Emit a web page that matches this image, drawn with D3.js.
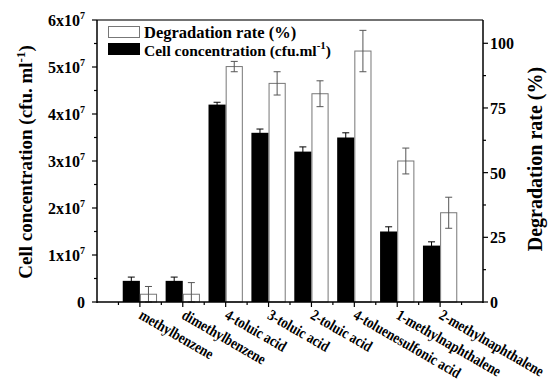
<!DOCTYPE html>
<html>
<head>
<meta charset="utf-8">
<script src="https://cdn.jsdelivr.net/npm/d3@7"></script>
<style>
  body { margin: 0; background: #fff; }
  text { font-family: "Liberation Serif", "Times New Roman", serif; font-weight: bold; fill: #000; }
</style>
</head>
<body>
<svg id="chart"></svg>
<script>
const categories = ['methylbenzene', 'dimethylbenzene', '4-toluic acid', '3-toluic acid',
	'2-toluic acid', '4-toluenesulfonic acid', '1-methylnaphthalene', '2-methylnaphthalene'];
const cellValues = [0.45e7, 0.45e7, 4.2e7, 3.6e7, 3.2e7, 3.5e7, 1.5e7, 1.2e7];
const cellErrors = [0.08e7, 0.08e7, 0.05e7, 0.08e7, 0.1e7, 0.1e7, 0.1e7, 0.08e7];
const degValues = [3, 3, 91, 84.5, 80.5, 97, 54.5, 34.5];
const degErrors = [3, 4.5, 2, 4.5, 5, 8, 5, 6];
const leftTicks = [0, 1e7, 2e7, 3e7, 4e7, 5e7, 6e7];
const rightTicks = [0, 25, 50, 75, 100];

const W = 550, H = 391;
const svg = d3.select('#chart').attr('width', W).attr('height', H);

const plotL = 97, plotR = 483, plotT = 20, plotB = 302;

const x = d3.scaleLinear().domain([0, categories.length + 1]).range([plotL, plotR]);
const yL = d3.scaleLinear().domain([0, 6e7]).range([plotB, plotT]);
const yR = d3.scaleLinear().domain([0, 109]).range([plotB, plotT]);
const barW = x(0.4) - x(0);

// frame top line
svg.append('line')
	.attr('x1', plotL).attr('x2', plotR).attr('y1', plotT).attr('y2', plotT)
	.attr('stroke', '#444').attr('stroke-width', 1.5);

// bars
const g = svg.append('g');
categories.forEach((c, i) => {
	const cx = x(i + 1);
	g.append('rect')
		.attr('x', cx - barW).attr('y', yL(cellValues[i]))
		.attr('width', barW).attr('height', yL(0) - yL(cellValues[i]))
		.attr('fill', '#000');
	g.append('rect')
		.attr('x', cx + 0.5).attr('y', yR(degValues[i]))
		.attr('width', barW - 1).attr('height', yR(0) - yR(degValues[i]))
		.attr('fill', '#fff').attr('stroke', '#777').attr('stroke-width', 1);
});

// error bars
const errorBar = (cx, yHi, yLo, color) => {
	g.append('line').attr('x1', cx).attr('x2', cx).attr('y1', yHi).attr('y2', yLo)
		.attr('stroke', color).attr('stroke-width', 1);
	[yHi, yLo].forEach(yy => {
		g.append('line').attr('x1', cx - 3.5).attr('x2', cx + 3.5).attr('y1', yy).attr('y2', yy)
			.attr('stroke', color).attr('stroke-width', 1);
	});
};
categories.forEach((c, i) => {
	const cx = x(i + 1);
	errorBar(cx - barW / 2, yL(cellValues[i] + cellErrors[i]), yL(cellValues[i] - cellErrors[i]), '#000');
	errorBar(cx + barW / 2, yR(degValues[i] + degErrors[i]), yR(Math.max(0, degValues[i] - degErrors[i])), '#555');
});

// left axis
const axL = svg.append('g').attr('transform', `translate(${plotL},0)`);
axL.append('line').attr('y1', plotT).attr('y2', plotB + 1).attr('stroke', '#000').attr('stroke-width', 1.5);
d3.range(0, 6.01e7, 0.5e7).forEach(v => {
	const major = Math.abs(v % 1e7) < 1;
	axL.append('line').attr('x1', major ? -5 : -3).attr('x2', 0)
		.attr('y1', yL(v)).attr('y2', yL(v)).attr('stroke', '#000').attr('stroke-width', 1.2);
});
leftTicks.forEach(v => {
	const t = axL.append('text').attr('x', -12).attr('y', yL(v) + 6)
		.attr('text-anchor', 'end').attr('font-size', 16);
	if (v === 0) { t.text('0'); return; }
	t.append('tspan').text(`${v / 1e7}x10`);
	t.append('tspan').attr('dy', -7).attr('font-size', 10).text('7');
});

// right axis
const axR = svg.append('g').attr('transform', `translate(${plotR},0)`);
axR.append('line').attr('y1', plotT).attr('y2', plotB + 1).attr('stroke', '#000').attr('stroke-width', 1.5);
d3.range(0, 101, 12.5).forEach(v => {
	const major = v % 25 === 0;
	axR.append('line').attr('x1', 0).attr('x2', major ? 5 : 3)
		.attr('y1', yR(v)).attr('y2', yR(v)).attr('stroke', '#000').attr('stroke-width', 1.2);
});
rightTicks.forEach(v => {
	axR.append('text').attr('x', 7).attr('y', yR(v) + 6).attr('font-size', 16).text(v);
});

// bottom axis
const axB = svg.append('g').attr('transform', `translate(0,${plotB})`);
axB.append('line').attr('x1', plotL).attr('x2', plotR).attr('stroke', '#000').attr('stroke-width', 1.5);
d3.range(0.5, categories.length + 1, 0.5).forEach(v => {
	const major = v % 1 === 0;
	axB.append('line').attr('x1', x(v)).attr('x2', x(v)).attr('y1', 0).attr('y2', major ? 5 : 3)
		.attr('stroke', '#000').attr('stroke-width', 1.2);
});
categories.forEach((c, i) => {
	axB.append('text')
		.attr('transform', `translate(${x(i + 1) - 2},${16}) rotate(30) scale(0.84,1)`)
		.attr('font-size', 15.5).text(c);
});

// axis titles
const tl = svg.append('text').attr('transform', `translate(32,162) rotate(-90)`)
	.attr('text-anchor', 'middle').attr('font-size', 19);
tl.append('tspan').text('Cell concentration (cfu. ml');
tl.append('tspan').attr('dy', -7).attr('font-size', 13).text('-1');
tl.append('tspan').attr('dy', 7).text(')');

svg.append('text').attr('transform', `translate(542,159) rotate(-90)`)
	.attr('text-anchor', 'middle').attr('font-size', 20).text('Degradation rate (%)');

// legend
const lg = svg.append('g');
lg.append('rect').attr('x', 108.5).attr('y', 26.5).attr('width', 31).attr('height', 11)
	.attr('fill', '#fff').attr('stroke', '#777');
lg.append('rect').attr('x', 108).attr('y', 43).attr('width', 32).attr('height', 12).attr('fill', '#000');
lg.append('text').attr('x', 144).attr('y', 38).attr('font-size', 16.5).text('Degradation rate (%)');
const lt = lg.append('text').attr('x', 144).attr('y', 56).attr('font-size', 15.5);
lt.append('tspan').text('Cell concentration (cfu.ml');
lt.append('tspan').attr('dy', -7).attr('font-size', 11).text('-1');
lt.append('tspan').attr('dy', 7).text(')');
</script>
</body>
</html>
